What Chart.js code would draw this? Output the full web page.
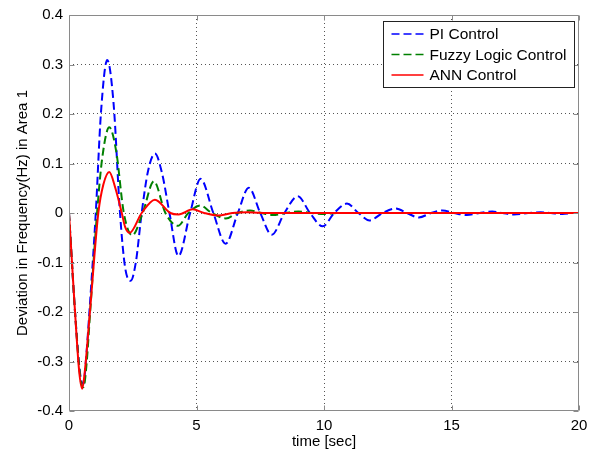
<!DOCTYPE html>
<html><head><meta charset="utf-8">
<script src="https://cdn.jsdelivr.net/npm/chart.js@4/dist/chart.umd.min.js"></script>
<style>html,body{margin:0;padding:0;background:#fff;}#wrap{width:595px;height:453px;position:relative;}</style>
</head><body><div id="wrap"><canvas id="c" width="595" height="453"></canvas></div>
<script>
// ---- data ----
const tPI = [0, 0.25, 0.45, 0.57, 0.66, 0.8, 1.05, 1.25, 1.5, 1.75, 2.0, 2.2, 2.42, 2.62, 2.85, 3.1, 3.37, 3.65, 3.94, 4.29, 4.75, 5.16, 5.66, 6.14, 6.62, 7.05, 7.5, 7.95, 8.45, 8.97, 9.45, 9.95, 10.4, 10.9, 11.35, 11.78, 12.3, 12.82, 13.25, 13.72, 14.2, 14.65, 15.1, 15.6, 16.1, 16.6, 17.0, 17.45, 18.0, 18.5, 18.9, 19.35, 19.8, 20];
const vPI = [0, -0.21, -0.33, -0.345, -0.3, -0.2, 0, 0.2, 0.309, 0.22, 0, -0.11, -0.137, -0.1, 0, 0.085, 0.12, 0.08, 0, -0.087, 0, 0.069, 0, -0.062, 0, 0.051, 0, -0.044, 0, 0.034, 0, -0.027, 0, 0.019, 0, -0.015, 0, 0.009, 0, -0.009, 0, 0.005, 0, -0.004, 0, 0.003, 0, -0.003, 0, 0.0015, 0, -0.002, 0, 0];
const tFLC = [0, 0.25, 0.45, 0.57, 0.68, 0.83, 1.1, 1.3, 1.58, 1.85, 2.15, 2.48, 2.89, 3.33, 3.78, 4.27, 4.68, 5.15, 5.6, 6.15, 6.6, 7.1, 7.55, 8.0, 8.5, 9.0, 9.5, 10.0, 10.5, 20];
const vFLC = [0, -0.21, -0.335, -0.352, -0.31, -0.2, 0, 0.11, 0.173, 0.125, 0, -0.045, 0, 0.064, 0, -0.026, 0, 0.015, 0, -0.011, 0, 0.005, 0, -0.004, 0, 0.003, 0, -0.002, 0, 0];
const tANN = [0, 0.2, 0.4, 0.52, 0.62, 0.82, 1.15, 1.35, 1.58, 1.82, 2.07, 2.2, 2.38, 2.85, 3.37, 3.97, 4.3, 4.85, 5.3, 5.85, 6.4, 7.0, 7.8, 20];
const vANN = [0, -0.17, -0.32, -0.355, -0.32, -0.2, 0, 0.058, 0.083, 0.05, 0, -0.028, -0.04, 0, 0.027, 0, -0.003, 0.0075, 0, -0.005, 0, 0.0015, 0, 0];
const seriesNames = ['PI Control', 'Fuzzy Logic Control', 'ANN Control'];
const xTicks = [0, 5, 10, 15, 20];
const xTickLabels = ['0', '5', '10', '15', '20'];
const yTicks = [-0.4, -0.3, -0.2, -0.1, 0, 0.1, 0.2, 0.3, 0.4];
const yTickLabels = ['-0.4', '-0.3', '-0.2', '-0.1', '0', '0.1', '0.2', '0.3', '0.4'];
const xTitle = 'time [sec]';
const yTitle = 'Deviation in Frequency(Hz) in Area 1';

const FONT = '"Liberation Sans", Arial, Helvetica, sans-serif';
const pts = (t, v) => t.map((x, i) => ({x: x, y: v[i]}));

const frame = {
  id: 'frame',
  afterDraw(chart) {
    const ctx = chart.ctx, a = chart.chartArea;
    const xs = chart.scales.x, ys = chart.scales.y;
    ctx.save();
    ctx.strokeStyle = '#8a8a8a'; ctx.lineWidth = 1; ctx.setLineDash([]);
    ctx.beginPath();
    const L = Math.round(a.left) + 0.5, R = Math.round(a.right) - 0.5, T = Math.round(a.top) + 0.5, B = Math.round(a.bottom) - 0.5;
    ctx.rect(L, T, R - L, B - T);
    const tl = 5;
    xTicks.forEach(v => { const p = Math.round(xs.getPixelForValue(v)) + 0.5; ctx.moveTo(p, B); ctx.lineTo(p, B - tl); ctx.moveTo(p, T); ctx.lineTo(p, T + tl); });
    yTicks.forEach(v => { const p = Math.round(ys.getPixelForValue(v)) + 0.5; ctx.moveTo(L, p); ctx.lineTo(L + tl, p); ctx.moveTo(R, p); ctx.lineTo(R - tl, p); });
    ctx.stroke();
    // legend
    const bw = 191, bh = 66;
    const bx = Math.round(a.right) - 5 - bw + 0.5, by = Math.round(a.top) + 6 + 0.5;
    ctx.fillStyle = '#fff'; ctx.fillRect(bx, by, bw, bh);
    ctx.strokeStyle = '#222'; ctx.strokeRect(bx, by, bw, bh);
    ctx.font = '15.5px ' + FONT; ctx.textBaseline = 'middle'; ctx.textAlign = 'left';
    chart.data.datasets.forEach((ds, i) => {
      const y = by + 12.5 + i * 20.5;
      ctx.strokeStyle = ds.borderColor; ctx.lineWidth = 1.5; ctx.setLineDash(ds.borderDash || []);
      ctx.beginPath(); ctx.moveTo(bx + 8, y); ctx.lineTo(bx + 40, y); ctx.stroke();
      ctx.setLineDash([]);
      ctx.fillStyle = '#000'; ctx.fillText(ds.label, bx + 46, y + 1);
    });
    ctx.restore();
  }
};

new Chart(document.getElementById('c'), {
  type: 'line',
  data: {
    datasets: [
      {label: seriesNames[0], data: pts(tPI, vPI), borderColor: '#0000ff', borderWidth: 2, borderDash: [8, 4], pointRadius: 0, cubicInterpolationMode: 'monotone', order: 3, fill: false},
      {label: seriesNames[1], data: pts(tFLC, vFLC), borderColor: '#008000', borderWidth: 2, borderDash: [8, 4], pointRadius: 0, cubicInterpolationMode: 'monotone', order: 2, fill: false},
      {label: seriesNames[2], data: pts(tANN, vANN), borderColor: '#ff0000', borderWidth: 2, pointRadius: 0, cubicInterpolationMode: 'monotone', order: 1, fill: false}
    ]
  },
  options: {
    responsive: false, animation: false, devicePixelRatio: 1,
    layout: {padding: {left: 0, right: 16, top: 14, bottom: 0}},
    plugins: {legend: {display: false}, tooltip: {enabled: false}},
    scales: {
      x: {
        type: 'linear', min: 0, max: 20,
        afterBuildTicks: s => { s.ticks = xTicks.map(v => ({value: v})); },
        afterFit: s => { s.height = 42; },
        ticks: {callback: (v, i) => xTickLabels[i], color: '#000', font: {family: FONT, size: 15}, padding: 6, maxRotation: 0, autoSkip: false},
        grid: {drawTicks: false, color: c => (c.index === 0 || c.index === xTicks.length - 1) ? 'rgba(0,0,0,0)' : '#555', lineWidth: 1},
        border: {display: false, dash: [1, 3]},
        title: {display: true, text: xTitle, color: '#000', font: {family: FONT, size: 15}, padding: {top: 0, bottom: 2}}
      },
      y: {
        type: 'linear', min: -0.4, max: 0.4,
        afterBuildTicks: s => { s.ticks = yTicks.map(v => ({value: v})); },
        afterFit: s => { s.width = 69; },
        ticks: {callback: (v, i) => yTickLabels[i], color: '#000', font: {family: FONT, size: 15}, padding: 6, autoSkip: false},
        grid: {drawTicks: false, color: c => (c.index === 0 || c.index === yTicks.length - 1) ? 'rgba(0,0,0,0)' : '#555', lineWidth: 1},
        border: {display: false, dash: [1, 3]},
        title: {display: true, text: yTitle, color: '#000', font: {family: FONT, size: 15}, padding: {top: 14, bottom: 0}}
      }
    }
  },
  plugins: [frame]
});
</script></body></html>
